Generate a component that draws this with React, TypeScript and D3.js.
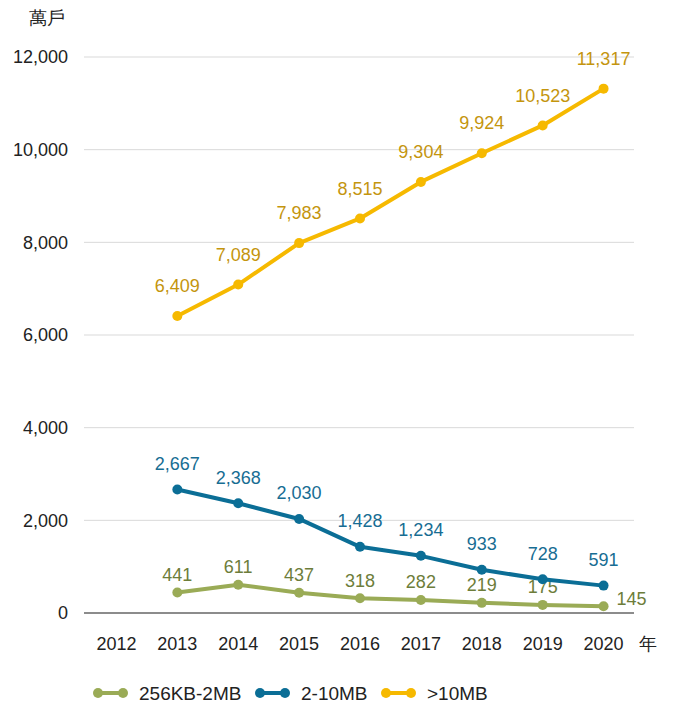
import React from "react";
import * as d3 from "d3";

const years = ["2012", "2013", "2014", "2015", "2016", "2017", "2018", "2019", "2020"];
const seriesYears = ["2013", "2014", "2015", "2016", "2017", "2018", "2019", "2020"];
const small = [441, 611, 437, 318, 282, 219, 175, 145];
const mid = [2667, 2368, 2030, 1428, 1234, 933, 728, 591];
const large = [6409, 7089, 7983, 8515, 9304, 9924, 10523, 11317];
const yTicks = [0, 2000, 4000, 6000, 8000, 10000, 12000];
const seriesNames = ["256KB-2MB", "2-10MB", ">10MB"];

const W = 673, H = 707;
const FONT = "'Liberation Sans', Arial, Helvetica, sans-serif";

export default function App() {
  const x = d3.scaleBand().domain(years).range([86, 634]).padding(0);
  const cx = (d: string) => (x(d) as number) + x.bandwidth() / 2;
  const y = d3.scaleLinear().domain([0, 12000]).range([613, 57]);
  const fmt = d3.format(",");

  const series = [
    { name: seriesNames[0], values: small, color: "#9aab56", label: "#6d7d3a", off: 18 },
    { name: seriesNames[1], values: mid, color: "#0b6e96", label: "#176d93", off: 26 },
    { name: seriesNames[2], values: large, color: "#f6b900", label: "#c4950e", off: 30 },
  ];
  const line = d3.line<number>().x((_, i) => cx(seriesYears[i])).y((v) => y(v));
  const legendX = [97, 259, 385];

  return (
    <svg width={W} height={H} style={{ position: "absolute", left: 0, top: 0 }} fontFamily={FONT}>
      <rect width={W} height={H} fill="#fff" />
      {yTicks.filter((t) => t > 0).map((t) => (
        <line key={t} x1={84} x2={634} y1={y(t)} y2={y(t)} stroke="#d9d9d9" strokeWidth={1} />
      ))}
      <line x1={84} x2={634} y1={y(0)} y2={y(0)} stroke="#666" strokeWidth={1.3} />
      {yTicks.map((t) => (
        <text key={t} x={68} y={y(t)} dy="0.35em" textAnchor="end" fontSize={18} fill="#222">{fmt(t)}</text>
      ))}
      <text x={47} y={18} dy="0.35em" textAnchor="middle" fontSize={18} fill="#222">萬戶</text>
      {years.map((yr) => (
        <text key={yr} x={cx(yr)} y={644} dy="0.35em" textAnchor="middle" fontSize={18} fill="#222">{yr}</text>
      ))}
      <text x={648} y={644} dy="0.35em" textAnchor="middle" fontSize={18} fill="#222">年</text>
      {series.map((s) => (
        <g key={s.name}>
          <path d={line(s.values) || ""} fill="none" stroke={s.color} strokeWidth={4} strokeLinejoin="round" />
          {s.values.map((v, i) => (
            <circle key={i} cx={cx(seriesYears[i])} cy={y(v)} r={5} fill={s.color} />
          ))}
          {s.values.map((v, i) => {
            const last = s === series[0] && i === s.values.length - 1;
            return (
              <text key={"l" + i}
                x={last ? cx(seriesYears[i]) + 28 : cx(seriesYears[i])}
                y={last ? y(v) - 8 : y(v) - s.off}
                dy="0.35em" textAnchor="middle" fontSize={18} fill={s.label}>{fmt(v)}</text>
            );
          })}
        </g>
      ))}
      {series.map((s, i) => (
        <g key={"lg" + i} transform={`translate(${legendX[i]},693)`}>
          <line x1={0} x2={27} y1={0} y2={0} stroke={s.color} strokeWidth={4} />
          <circle cx={1} cy={0} r={5} fill={s.color} />
          <circle cx={26} cy={0} r={5} fill={s.color} />
          <text x={42} y={0} dy="0.35em" fontSize={19} fill="#222">{s.name}</text>
        </g>
      ))}
    </svg>
  );
}
